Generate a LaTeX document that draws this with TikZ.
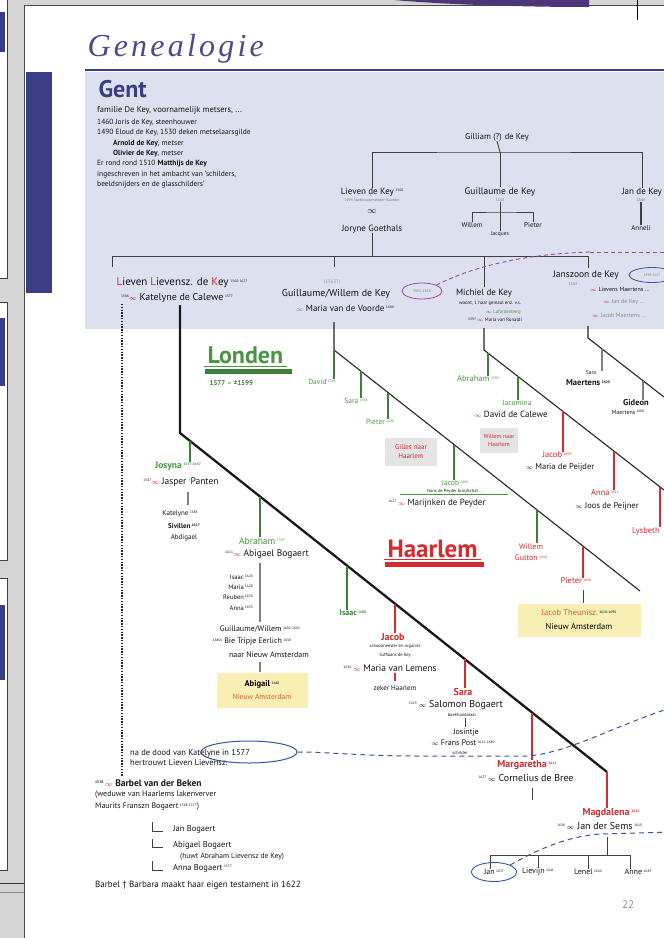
\documentclass[tikz,border=0pt]{standalone}
\usepackage{fontspec}
\setmainfont{PT Sans}
\newfontfamily\titlefont[LetterSpace=10]{Liberation Serif}
\usetikzlibrary{shapes.geometric}
\definecolor{pagegray}{HTML}{D5D5D5}
\definecolor{lav}{HTML}{DDE0EE}
\definecolor{dkblue}{HTML}{3A3E84}
\definecolor{ttl}{HTML}{4B4B8C}
\definecolor{grn}{HTML}{4C9444}
\definecolor{dgrn}{HTML}{3E7D3A}
\definecolor{rd}{HTML}{D42A30}
\definecolor{ylw}{HTML}{F8EFB4}
\definecolor{gbox}{HTML}{E4E4E4}
\definecolor{dashblue}{HTML}{3A55A0}
\definecolor{purp}{HTML}{A04AA8}
\definecolor{txt}{HTML}{161616}
\definecolor{orred}{HTML}{D4602A}
\newcommand\fsz[1]{\fontsize{#1}{#1}\selectfont}
\newcommand\yr[1]{\raisebox{0.55ex}{\fontsize{3.6}{4}\selectfont #1}}
\newcommand\mrr{\textcolor{rd}{$\scriptstyle\infty$}}
\newcommand\mrg{\textcolor{grn}{$\scriptstyle\infty$}}
\newcommand\mrk{$\scriptstyle\infty$}
\begin{document}
\begin{tikzpicture}[x=1pt,y=-1pt,
  base/.style={inner sep=0pt, text=txt},
  nm/.style={base, font=\fsz{9}},
  rn/.style={base, text=rd, font=\fsz{10}\bfseries},
  tiny/.style={base, font=\fsz{3.8}, text=black!55},
  tl/.style={line width=0.9pt, black!75},
  kl/.style={line width=1.4pt, black!50},
  gl/.style={line width=1.6pt, dgrn},
  rl/.style={line width=1.6pt, rd},
  diag/.style={line width=1.1pt, black!85},
  mainl/.style={line width=2.3pt, black!90},
  gbx/.style={fill=gbox, inner sep=0pt, align=center, text=rd},
  ybx/.style={fill=ylw, inner sep=0pt, align=center},
  dsh/.style={dashblue, line width=1pt, dash pattern=on 5pt off 4pt}
]
\useasboundingbox (0,0) rectangle (664,938);
\clip (0,0) rectangle (664,938);
% page and margins
\fill[pagegray] (0,0) rectangle (664,938);
\fill[white] (25,6) rectangle (664,938);
\draw[black!70, line width=1.2pt] (24.5,938) -- (24.5,5.5) -- (664,5.5);
\foreach \a/\b/\c/\d in {-2/278/12/52, 302/560/318/386, 578/870/605/680}{
  \fill[white] (0,\a) rectangle (7,\b);
  \draw[black!75, line width=0.8pt] (-1,\a) -- (7,\a) -- (7,\b) -- (-1,\b);
  \fill[dkblue] (0,\c) rectangle (5,\d);}
\draw[black!80, line width=0.8pt] (0,883) -- (24,883);
\draw[black!45, line width=0.6pt] (0,892) -- (24,892);
\fill[dkblue!85!purple] (394,0) .. controls (450,5) and (530,7) .. (589,7) -- (589,0) -- cycle;
\draw[black, line width=1pt] (637,0) -- (637,20);
% header
\node[anchor=base west, font=\titlefont\itshape\fsz{32}, text=ttl] (title) at (84,56) {Genealogie};
\draw[dkblue, line width=2.5pt] (85,70) -- (664,70);
\fill[lav] (85,71.5) rectangle (664,329);
\fill[dkblue] (26,72) rectangle (52,293);
\node[anchor=base west, font=\fsz{24}\bfseries, text=dkblue] (gent) at (95,97) {Gent};
\node[anchor=base west, base, font=\fsz{8.5}] (fam) at (97,112) {familie De Key, voornamelijk metsers, ...};
\node[anchor=north west, base, font=\fontsize{7.5}{10.3}\selectfont, align=left] (hist) at (97,119)
 {1460 Joris de Key, steenhouwer\\
  1490 Eloud de Key, 1530 deken metselaarsgilde\\
  \hspace*{16pt}\textbf{Arnold de Key}, metser\\
  \hspace*{16pt}\textbf{Olivier de Key}, metser\\
  Er rond rond 1510 \textbf{Matthijs de Key}\\
  ingeschreven in het ambacht van 'schilders,\\
  beeldsnijders en de glasschilders'};
% top tree
\node[nm, font=\fsz{8.5}] (gil) at (497,137) {Gilliam (?) de Key};
\node[nm] (lk) at (372,192) {Lieven de Key\,\yr{1560}};
\node[tiny] (lkd) at (372,200) {1593 Stadsbouwmeester Haarlem};
\node[nm] (lkm) at (372,212) {$\infty$};
\node[nm] (jg) at (372,229) {Joryne Goethals};
\node[nm, font=\fsz{9.5}] (gk) at (500,192) {Guillaume de Key};
\node[tiny] (gkd) at (500,200) {1560};
\node[base, font=\fsz{7}] (wil) at (472,225) {Willem};
\node[base, font=\fsz{7}] (pie) at (533,225) {Pieter};
\node[base, font=\fsz{5.5}] (jac) at (500,234) {Jacques};
\node[nm] (jk) at (642,192) {Jan de Key};
\node[tiny] (jkd) at (641,200) {1560};
\node[base, font=\fsz{7}] (ann) at (641,228) {Anneli};
\coordinate (gbar) at (500,152);
\draw[tl] (gil.south) -- (gbar);
\draw[tl] (lk.north) |- (gbar) -| (jk.north);
\draw[tl] (gbar) -- (gk.north);
\coordinate (wbar) at (500,212);
\draw[tl] (gkd.south) -- (wbar);
\draw[tl] (wil.north) |- (wbar) -| (pie.north);
\draw[tl] (wbar) -- (jac.north);
\draw[tl, line width=1.8pt] (jkd.south) -- (ann.north);
% generation bar
\coordinate (rb) at (372,256);
\coordinate (t1) at (112,256); \coordinate (t1b) at (112,267);
\coordinate (t2) at (334,256); \coordinate (t2b) at (334,267);
\coordinate (t3) at (484,256); \coordinate (t3b) at (484,287);
\coordinate (t4) at (588,256); \coordinate (t4b) at (588,268);
\draw[tl] (jg.south) -- (rb);
\draw[tl] (t1b) -- (t1) -- (t4) -- (t4b);
\draw[tl] (t2) -- (t2b);
\draw[tl] (t3) -- (t3b);
% row 2
\node[base, font=\fsz{11}] (ll) at (182,283) {\textcolor{rd}{L}ieven \textcolor{rd}{L}ievensz. de \textcolor{rd}{K}ey\,\yr{1560-1627}};
\node[base, font=\fsz{10}] (kc) at (177,298) {\yr{1566}\mrr\ Katelyne de Calewe\,\yr{1577}};
\node[tiny, font=\fsz{5}, text=black!40] (gwy) at (332,282) {(1563?)};
\node[base, font=\fsz{10}] (gw) at (336,294) {Guillaume/Willem de Key};
\node[base, font=\fsz{9}] (mv) at (345,308) {\mrg\ Maria van de Voorde\,\yr{1600}};
\node[draw=purp, ellipse, line width=0.8pt, minimum width=40pt, minimum height=16pt, inner sep=0pt, font=\fsz{3.8}, text=black!50] (pov) at (422,291) {1591-1610};
\node[base, font=\fsz{9}] (mk) at (484,293) {Michiel de Key};
\node[tiny, font=\fsz{4.8}, text=txt] (mk1) at (490,303) {woont, 1 haar gemaal enz. v.s.};
\node[tiny, font=\fsz{4.8}, text=grn] (mk2) at (503,312) {\mrg\ Lafardenberg};
\node[tiny, font=\fsz{4.8}, text=txt] (mk3) at (495,320) {\yr{1597}\,\mrr\ Maria van Ronaldi};
\node[base, font=\fsz{9.5}] (jzk) at (586,275) {Janszoon de Key};
\node[tiny] (jzd) at (573,284) {1563};
\node[draw=dashblue, ellipse, minimum width=46pt, minimum height=15pt, inner sep=0pt, line width=0.8pt, font=\fsz{3.5}, text=black!50] (jov) at (652,275) {1598-1617};
\node[base, anchor=west, font=\fsz{6}] (jz1) at (590,289) {\mrr\ Lievens Maertens ...};
\node[base, anchor=west, font=\fsz{6}, text=black!45] (jz2) at (603,302) {\mrr\ Jan de Key ...};
\node[base, anchor=west, font=\fsz{6}, text=black!45] (jz3) at (592,315) {\mrr\ Jacob Maertens ...};
\draw[purp, line width=0.9pt, dash pattern=on 4pt off 3pt] (pov.north east) .. controls (470,268) and (520,254) .. (590,252) coordinate (pe1);
\coordinate (pe2) at (670,252);
\draw[purp, line width=0.9pt, dash pattern=on 4pt off 3pt] (pe1) -- (pe2);
% Londen / Haarlem titles
\node[anchor=base west, font=\fsz{24}\bfseries, text=grn] (lon) at (204,363) {Londen};
\draw[grn, line width=0.6pt] (lon.base west) ++(0,3) coordinate (lu1) -- (lu1 -| lon.east);
\fill[dgrn] (205,369) rectangle (292,374);
\node[anchor=base west, font=\fsz{7}\bfseries, text=dgrn] (lony) at (206,385) {1577 -- ±1599};
\node[anchor=base west, font=\fsz{25}\bfseries, text=rd] (haa) at (384,557) {Haarlem};
\draw[rd, line width=0.6pt] (haa.base west) ++(0,2.5) coordinate (hu1) -- (hu1 -| haa.east);
\fill[rd] (385,562) rectangle (484,567);
% main line
\coordinate (kcb) at (180,305);
\coordinate (m0) at (180,433);
\coordinate (m1) at (607,772);
\draw[mainl] (kcb) -- (m0) -- (m1);
% Josyna
\node[base, font=\fsz{9.5}\bfseries, text=grn] (jos) at (178,466) {Josyna\,\yr{1557-1647}};
\coordinate (jb) at (190,441);
\draw[gl] (jb) -- (jb |- jos.north);
\node[base, font=\fsz{9.5}] (jas) at (181,482) {\yr{1587}\mrr\ Jasper \yr{?}Panten};
\coordinate (jk1) at (188,492); \coordinate (jk2) at (188,505);
\draw[kl] (jk1) -- (jk2);
\node[base, font=\fsz{7}] (kat) at (180,514) {Katelyne\,\yr{1588}};
\node[base, font=\fsz{7}\bfseries] (siv) at (184,526) {Sivillen\,\yr{1617}};
\node[base, font=\fsz{7}] (abd) at (184,538) {Abdigael};
% Abraham
\coordinate (ab0) at (260,497);
\node[base, font=\fsz{9.5}, text=grn] (abr) at (262,541) {Abraham\,\yr{1597}};
\draw[gl] (ab0) -- (ab0 |- abr.north);
\node[base, font=\fsz{9.5}] (abb) at (267,554) {\yr{1611}\mrr\ Abigael Bogaert};
\coordinate (ab1) at (260,563); \coordinate (ab2) at (260,622);
\draw[kl, line width=1.8pt] (ab1) -- (ab2);
\node[base, anchor=east, font=\fsz{6.5}] (k1) at (253,577) {Isaac\,\yr{1626}};
\node[base, anchor=east, font=\fsz{6.5}] (k2) at (253,587) {Maria\,\yr{1628}};
\node[base, anchor=east, font=\fsz{6.5}] (k3) at (253,597) {Reuben\,\yr{1630}};
\node[base, anchor=east, font=\fsz{6.5}] (k4) at (253,608) {Anna\,\yr{1633}};
\node[base, font=\fsz{8}] (gw2) at (260,629) {Guillaume/Willem\,\yr{1602-1665}};
\node[base, font=\fsz{8}] (bie) at (252,642) {\yr{1640s} Bie Tripje Eerlich\,\yr{1650}};
\node[base, font=\fsz{8}] (naa) at (269,655) {naar Nieuw Amsterdam};
\coordinate (ab3) at (260,662); \coordinate (ab4) at (260,672);
\draw[kl] (ab3) -- (ab4);
\node[ybx, minimum width=91pt, minimum height=35pt, font=\fontsize{8.5}{13}\selectfont] (yb1) at (262,690) {\textbf{Abigail}\,\yr{1640}\\{\color{orred}\fsz{7.5}Nieuw Amsterdam}};
% Isaac
\coordinate (is0) at (347,566);
\node[base, font=\fsz{8}\bfseries, text=dgrn] (isa) at (353,613) {Isaac\,\yr{1600}};
\draw[gl] (is0) -- (is0 |- isa.north);
% Jacob
\coordinate (jc0) at (395,604);
\node[rn] (jcb) at (393,637) {Jacob};
\draw[rl] (jc0) -- (jc0 |- jcb.north);
\node[tiny, font=\fsz{4.5}, text=txt] (jct1) at (395,646) {schoolmeester en organist};
\node[tiny, font=\fsz{4.5}, text=txt] (jct2) at (395,655) {Suffiaans de Key};
\node[base, font=\fsz{9.5}] (mvl) at (390,668) {\yr{1636}\,\mrr\ Maria van Lemens};
\coordinate (jc1) at (395,673); \coordinate (jc2) at (395,681);
\draw[rl, line width=1.4pt] (jc1) -- (jc2);
\node[base, font=\fsz{7}] (zh) at (395,688) {zeker Haarlem};
% Sara
\coordinate (sa0) at (465,659);
\node[rn] (sar) at (463,692) {Sara};
\draw[rl] (sa0) -- (sa0 |- sar.north);
\node[base, font=\fsz{10}] (sbo) at (456,705) {\yr{1625}\,\mrk\ Salomon Bogaert};
\node[tiny, font=\fsz{4.5}, text=txt] (sbd) at (462,715) {boekhandelaar};
\coordinate (sb1) at (465,718); \coordinate (sb2) at (465,727);
\draw[tl] (sb1) -- (sb2);
\node[base, font=\fsz{8}] (jsi) at (466,733) {Josintje};
\node[base, font=\fsz{8}] (fpo) at (463,743) {\mrk\ Frans Post\,\yr{1612-1680}};
\node[tiny, font=\fsz{4.5}, text=txt] (sch) at (460,753) {schilder};
% Margaretha
\coordinate (mg0) at (532,713);
\node[rn] (mar) at (527,765) {Margaretha\,\yr{1611}};
\draw[rl] (mg0) -- (mg0 |- mar.north);
\node[base, font=\fsz{10}] (cdb) at (526,778) {\yr{1627}\,\mrk\ Cornelius de Bree};
\coordinate (mg1) at (532,788); \coordinate (mg2) at (532,800);
\draw[tl] (mg1) -- (mg2);
% Magdalena
\node[rn] (mag) at (611,813) {Magdalena\,\yr{1612}};
\draw[rl] (m1) -- (m1 |- mag.north);
\node[base, anchor=west, font=\fsz{10}] (jds) at (557,826) {\yr{1636}\,\mrk\ Jan der Sems\,\yr{1610}};
\coordinate (md1) at (607,837); \coordinate (md2) at (607,855);
\node[base, font=\fsz{8}] (kj) at (494,872) {Jan\,\yr{1637}};
\node[base, font=\fsz{8}] (kl2) at (538,872) {Lievijn\,\yr{1641}};
\node[base, font=\fsz{8}] (kn) at (588,872) {Lenel\,\yr{1644}};
\node[base, font=\fsz{8}] (ka) at (638,872) {Anne\,\yr{1649}};
\draw[tl] (md1) -- (md2);
\draw[tl] ([xshift=-4pt]kj.north) |- (md2) -| ([xshift=-8pt]ka.north);
\draw[tl] (kl2.north) -- (kl2.north |- md2);
\draw[tl] (kn.north) -- (kn.north |- md2);
\node[draw=dashblue, ellipse, line width=0.9pt, minimum width=45pt, minimum height=19pt, inner sep=0pt] (jov2) at (494,872) {};
\coordinate (e2) at (670,832);
\draw[dsh] (jov2.north east) .. controls (540,848) and (570,836) .. (600,834) -- (e2);
\node[base, font=\fsz{11}, text=black!45] (pg) at (628,905) {22};
% Guillaume branch (Londen)
\coordinate (g0) at (334,322); \coordinate (g1) at (334,350); \coordinate (g2) at (640,591);
\draw[diag] (g0) -- (g1) -- (g2);
\node[base, font=\fsz{7.5}, text=grn] (dav) at (322,382) {David\,\yr{1596}};
\draw[gl, line width=1.3pt] (g1) -- (g1 |- dav.north);
\node[base, font=\fsz{7.5}, text=grn] (sa2) at (356,401) {Sara\,\yr{1598}};
\coordinate (sg) at (361,371);
\draw[gl, line width=1.3pt] (sg) -- (sg |- sa2.north);
\node[base, font=\fsz{7.5}, text=grn] (pi2) at (380,422) {Pieter\,\yr{1600}};
\coordinate (pg2) at (388,393);
\draw[gl, line width=1.3pt] (pg2) -- (pg2 |- pi2.north);
\node[gbx, minimum width=52pt, minimum height=28pt, font=\fontsize{7}{9}\selectfont] (gnh) at (411,452) {Gilles naar\\Haarlem};
\node[base, font=\fsz{7.5}, text=grn] (jc2n) at (455,483) {Jacob\,\yr{1604}};
\coordinate (jg0) at (454,445);
\draw[gl, line width=1.3pt] (jg0) -- (jg0 |- jc2n.north);
\coordinate (hp1) at (400,494); \coordinate (hp2) at (508,494);
\draw[grn, line width=1pt] (hp1) -- (hp2);
\node[tiny, font=\fsz{4.5}, text=txt] (hpd) at (455,491) {Hans de Peyder bruidschat ...};
\node[base, font=\fsz{9}] (mdp) at (437,503) {\yr{1627}\,\mrr\ Marijnken de Peyder};
\coordinate (wg0) at (537,510);
\node[base, font=\fontsize{8}{11}\selectfont, text=rd, align=center] (wgu) at (531,552) {Willem\\Gulton\,\yr{1610}};
\draw[gl, line width=1.3pt] (wg0) -- (wg0 |- wgu.north);
\coordinate (pr0) at (583,547);
\node[base, font=\fsz{8.5}, text=rd] (pi3) at (576,581) {Pieter\,\yr{1636}};
\draw[rl, line width=1.3pt] (pr0) -- (pr0 |- pi3.north);
\coordinate (pr1) at (583,590); \coordinate (pr2) at (583,603);
\draw[tl] (pr1) -- (pr2);
\node[ybx, minimum width=123pt, minimum height=33pt, font=\fontsize{8.5}{14}\selectfont] (yb2) at (579,620) {{\color{orred}Jacob Theunisz.}\,\yr{1610-1690}\\Nieuw Amsterdam};
% Michiel branch
\coordinate (n0) at (484,328); \coordinate (n1) at (484,350); \coordinate (n2) at (664,490);
\draw[diag] (n0) -- (n1) -- (n2);
\node[base, font=\fsz{8.5}, text=grn] (ab2n) at (478,379) {Abraham\,\yr{1599}};
\coordinate (an0) at (488,353);
\draw[gl, line width=1.3pt] (an0) -- (an0 |- ab2n.north);
\node[base, font=\fsz{7.5}, text=grn] (jcm) at (517,403) {Jacomina};
\coordinate (jm0) at (518,376);
\draw[gl, line width=1.3pt] (jm0) -- (jm0 |- jcm.north);
\node[base, font=\fsz{9}] (ddc) at (511,414) {\mrr\ David de Calewe};
\node[gbx, minimum width=38pt, minimum height=25pt, font=\fontsize{6}{8}\selectfont] (wnh) at (499,440) {Willem naar\\Haarlem};
\node[base, font=\fsz{8.5}, text=rd] (jc3) at (557,455) {Jacob\,\yr{1609}};
\coordinate (jr0) at (563,411);
\draw[rl, line width=1.3pt] (jr0) -- (jr0 |- jc3.north);
\node[base, font=\fsz{8.5}] (mdp2) at (560,467) {\mrk\ Maria de Peijder};
\node[base, font=\fsz{8.5}, text=rd] (an3) at (605,493) {Anna\,\yr{1611}};
\coordinate (ar0) at (614,451);
\draw[rl, line width=1.3pt] (ar0) -- (ar0 |- an3.north);
\node[base, font=\fsz{8.5}] (jdp) at (607,506) {\mrk\ Joos de Peijner};
\node[base, anchor=west, font=\fsz{8.5}, text=rd] (lys) at (632,531) {Lysbeth};
\coordinate (lr0) at (660,487);
\draw[rl, line width=1.3pt] (lr0) -- (lr0 |- lys.north);
% Jan branch
\coordinate (p0) at (588,326); \coordinate (p1) at (588,338); \coordinate (p2) at (664,397);
\draw[diag] (p0) -- (p1) -- (p2);
\node[base, font=\fsz{5.5}] (smr) at (591,373) {Sara};
\node[base, font=\fsz{8.5}\bfseries] (sme) at (588,383) {Maertens\,\yr{1600}};
\coordinate (sm0) at (602,349);
\draw[kl, line width=2pt] (sm0) -- (sm0 |- smr.north);
\node[base, font=\fsz{8.5}\bfseries] (gid) at (636,403) {Gideon};
\node[base, font=\fsz{6}] (gma) at (628,412) {Maertens\,\yr{1600}};
\coordinate (gd0) at (643,381);
\draw[kl, line width=2pt] (gd0) -- (gd0 |- gid.north);
% Barbel
\coordinate (d0) at (122,304); \coordinate (d1) at (122,776);
\draw[black!85, line width=2pt, dash pattern=on 1.4pt off 1.4pt] (d0) -- (d1);
\node[base, anchor=west, font=\fontsize{8.5}{10}\selectfont, align=left] (nad) at (130,758) {na de dood van Katelyne in 1577\\hertrouwt Lieven Lievensz.};
\node[draw=dashblue, ellipse, line width=1pt, minimum width=96pt, minimum height=22pt, inner sep=0pt] (kov) at (249,752) {};
\coordinate (e1) at (670,708);
\draw[dsh] (kov.east) .. controls (330,752) and (360,756) .. (420,756) -- (528,756) .. controls (570,752) and (610,728) .. (e1);
\node[base, anchor=west, font=\fsz{9.5}\bfseries] (bar) at (95,783) {\yr{1578}\,\mrr\ Barbel van der Beken};
\node[base, anchor=north west, font=\fontsize{8}{12}\selectfont, align=left] (wed) at (95,791) {(weduwe van Haarlems lakenverver\\Maurits Franszn Bogaert\,\yr{1568-1577})};
\node[base, anchor=west, font=\fsz{8.5}] (jbo) at (173,829) {Jan Bogaert};
\node[base, anchor=west, font=\fsz{8.5}] (abo) at (173,845) {Abigael Bogaert};
\node[base, anchor=west, font=\fsz{7.5}] (hab) at (180,857) {(huwt Abraham Lievensz de Key)};
\node[base, anchor=west, font=\fsz{8.5}] (anb) at (173,868) {Anna Bogaert\,\yr{1577}};
\coordinate (c1a) at (152,822); \coordinate (c1b) at (163,831);
\coordinate (c2a) at (152,839); \coordinate (c2b) at (163,847);
\coordinate (c3a) at (152,861); \coordinate (c3b) at (163,870);
\draw[tl] (c1a) |- (c1b);
\draw[tl] (c2a) |- (c2b);
\draw[tl] (c3a) |- (c3b);
\node[base, anchor=west, font=\fsz{9}] (tes) at (95,885) {Barbel † Barbara maakt haar eigen testament in 1622};
\end{tikzpicture}
\end{document}
